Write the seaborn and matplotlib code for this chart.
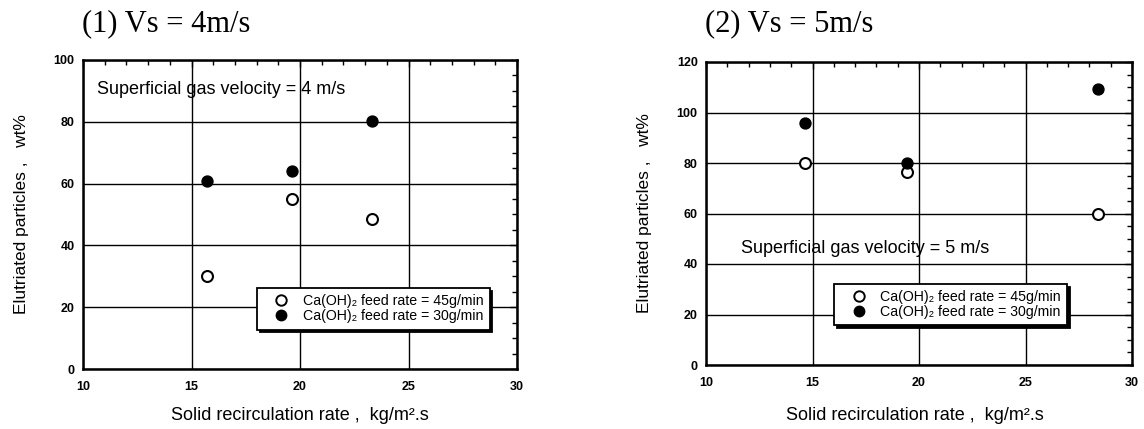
import matplotlib
matplotlib.use("Agg")
import matplotlib.pyplot as plt
from matplotlib.ticker import MultipleLocator
from matplotlib.lines import Line2D
import pandas as pd
import seaborn as sns

# Measured data: solid recirculation rate (kg/m2.s) vs elutriated particles (wt%)
rate_4ms = [15.7, 19.65, 23.3]
feed45_4ms = [30.0, 55.0, 48.5]
feed30_4ms = [61.0, 64.0, 80.3]

rate_5ms = [14.65, 19.45, 28.4]
feed45_5ms = [80.0, 76.5, 59.7]
feed30_5ms = [96.0, 80.0, 109.5]

panel_titles = ["(1) Vs = 4m/s", "(2) Vs = 5m/s"]
velocity_notes = ["Superficial gas velocity = 4 m/s", "Superficial gas velocity = 5 m/s"]
series_labels = ["Ca(OH)\u2082 feed rate = 45g/min", "Ca(OH)\u2082 feed rate = 30g/min"]
xlabel_text = "Solid recirculation rate ,  kg/m\u00b2.s"
ylabel_text = "Elutriated particles ,   wt%"

sns.set_style("white")
plt.rcParams["font.family"] = ["Liberation Sans", "DejaVu Sans"]
plt.rcParams.update({
    "text.color": "black",
    "axes.labelcolor": "black",
    "xtick.color": "black",
    "ytick.color": "black",
})

fig = plt.figure(figsize=(11.44, 4.29), dpi=100)
ax1 = fig.add_axes([83 / 1144, 1 - 369 / 429, 434 / 1144, 309 / 429])
ax2 = fig.add_axes([706 / 1144, 1 - 365 / 429, 426 / 1144, 303 / 429])


def build_panel(ax, rate, open_vals, filled_vals, ymax, note_xy, legend_xy, title, note, title_x):
    df = pd.DataFrame({
        "rate": rate * 2,
        "wt": open_vals + filled_vals,
        "feed": [series_labels[0]] * len(rate) + [series_labels[1]] * len(rate),
    })
    ax.set_xlim(10, 30)
    ax.set_ylim(0, ymax)
    ax.set_xticks(range(10, 31, 5))
    ax.set_yticks(range(0, ymax + 1, 20))
    ax.xaxis.set_minor_locator(MultipleLocator(1))
    ax.yaxis.set_minor_locator(MultipleLocator(5))
    ax.grid(True, which="major", color="black", linewidth=1.0)
    ax.set_axisbelow(True)
    ax.tick_params(which="both", direction="in", top=True, right=True, color="black", width=1.0)
    ax.tick_params(which="major", length=5)
    ax.tick_params(which="minor", length=3.5)
    ax.tick_params(axis="x", pad=8.5)
    ax.tick_params(axis="y", pad=6)
    for lab in ax.get_xticklabels() + ax.get_yticklabels():
        lab.set_fontsize(9)
        lab.set_fontweight("bold")
    for sp in ax.spines.values():
        sp.set_color("black")
        sp.set_linewidth(1.8)

    sns.scatterplot(data=df[df["feed"] == series_labels[0]], x="rate", y="wt", ax=ax,
                    marker="o", s=62, facecolor="white", edgecolor="black", linewidth=1.5,
                    zorder=3, legend=False)
    sns.scatterplot(data=df[df["feed"] == series_labels[1]], x="rate", y="wt", ax=ax,
                    marker="o", s=62, facecolor="black", edgecolor="black", linewidth=1.0,
                    zorder=3, legend=False)

    ax.set_xlabel(xlabel_text, fontsize=13)
    ax.set_ylabel(ylabel_text, fontsize=12.5)

    ax.text(note_xy[0], note_xy[1], note, fontsize=13, ha="left", va="center", zorder=2)

    handles = [
        Line2D([], [], marker="o", linestyle="none", markersize=7.5, markerfacecolor="white",
               markeredgecolor="black", markeredgewidth=1.4),
        Line2D([], [], marker="o", linestyle="none", markersize=7.5, markerfacecolor="black",
               markeredgecolor="black"),
    ]
    leg = ax.legend(handles, series_labels, loc="upper left", bbox_to_anchor=legend_xy,
                    bbox_transform=ax.transData, fontsize=10.2, frameon=True, fancybox=False,
                    shadow={"facecolor": "black", "edgecolor": "black", "alpha": 1.0},
                    borderpad=0.45, labelspacing=0.05, handlelength=2.5, handletextpad=0.25,
                    borderaxespad=0.0)
    leg.get_frame().set_edgecolor("black")
    leg.get_frame().set_linewidth(1.3)
    leg.get_frame().set_facecolor("white")
    leg.set_zorder(5)

    fig.text(title_x, 1 - 24 / 429, title, fontsize=22, family="Liberation Serif",
             ha="left", va="center")


build_panel(ax1, rate_4ms, feed45_4ms, feed30_4ms, 100, (10.65, 90.6), (18.03, 26.2),
            panel_titles[0], velocity_notes[0], 82 / 1144)
build_panel(ax2, rate_5ms, feed45_5ms, feed30_5ms, 120, (11.64, 46.0), (16.03, 32.1),
            panel_titles[1], velocity_notes[1], 705 / 1144)

ax1.yaxis.set_label_coords(-(83 - 29) / 434, 0.5)
ax1.xaxis.set_label_coords(0.5, -(407 - 369) / 309)
ax2.yaxis.set_label_coords(-(706 - 652) / 426, 0.5)
ax2.xaxis.set_label_coords(0.49, -(407 - 365) / 303)

fig.savefig("out.png", dpi=100)
